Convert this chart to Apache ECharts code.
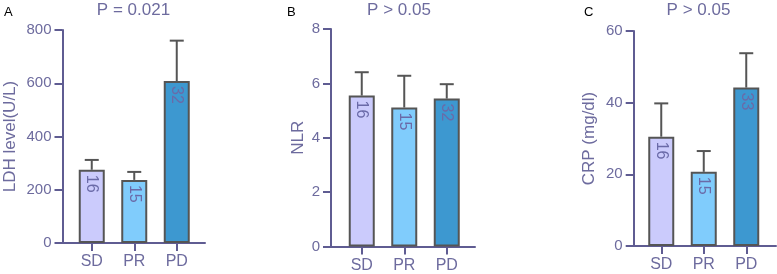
<!DOCTYPE html>
<html>
<head>
<meta charset="utf-8">
<script src="https://cdn.jsdelivr.net/npm/echarts@6/dist/echarts.min.js"></script>
<style>
  html, body { margin: 0; padding: 0; background: #fff; }
  #chart { width: 777px; height: 274px; }
</style>
</head>
<body>
<div id="chart"></div>
<script>
// data
const categories = ['SD', 'PR', 'PD']
const ldhMean = [275, 237, 608]
const ldhErr = [37, 30, 152]
const ldhN = [16, 15, 32]
const nlrMean = [5.55, 5.11, 5.44]
const nlrErr = [0.86, 1.17, 0.53]
const nlrN = [16, 15, 32]
const crpMean = [30.5, 20.7, 44.2]
const crpErr = [9.3, 5.8, 9.6]
const crpN = [16, 15, 33]

const pTexts = ['P = 0.021', 'P > 0.05', 'P > 0.05']
const letters = ['A', 'B', 'C']
const yNames = ['LDH level(U/L)', 'NLR', 'CRP (mg/dl)']
const yMax = [800, 8, 60]
const yStep = [200, 2, 20]

const barColors = ['#cbcbfc', '#80ccfc', '#3d98d0']
const axisColor = '#5f5c92'
const textColor = '#6d6b9e'
const edgeColor = '#555555'
const font = 'Liberation Sans, Arial, sans-serif'

// panel geometry (px)
const panels = [
  { axisX: 62.5, barLeft: 70.5, lineEnd: 205, top: 30, bottom: 243, titleX: 133.5, letterX: 4, nameGap: 44 },
  { axisX: 331, barLeft: 340.5, lineEnd: 475, top: 29, bottom: 246.5, titleX: 399, letterX: 287, nameGap: 24 },
  { axisX: 633.7, barLeft: 640, lineEnd: 776, top: 31, bottom: 246, titleX: 698.5, letterX: 584, nameGap: 35.5 }
]
const means = [ldhMean, nlrMean, crpMean]
const errs = [ldhErr, nlrErr, crpErr]
const counts = [ldhN, nlrN, crpN]

const H = 274
const catW = 127.5

const grid = [], xAxis = [], yAxis = [], series = [], title = []

panels.forEach((p, k) => {
  const gBar = grid.length
  grid.push({ left: p.barLeft, width: catW, top: p.top, bottom: H - p.bottom })
  const gLine = grid.length
  grid.push({ left: p.axisX, width: p.lineEnd - p.axisX, top: p.top, bottom: H - p.bottom })

  const xBar = xAxis.length
  xAxis.push({
    type: 'category', gridIndex: gBar, data: categories,
    axisLine: { show: false },
    axisTick: { show: true, alignWithLabel: true, length: 8, lineStyle: { color: axisColor, width: 2 } },
    axisLabel: { color: textColor, fontSize: 16, fontFamily: font, margin: 11 }
  })
  xAxis.push({
    type: 'value', gridIndex: gLine, min: 0, max: 1,
    axisLine: { show: true, lineStyle: { color: axisColor, width: 2 } },
    axisTick: { show: false }, axisLabel: { show: false }, splitLine: { show: false }
  })

  const yBar = yAxis.length
  yAxis.push({
    type: 'value', gridIndex: gBar, min: 0, max: yMax[k], interval: yStep[k],
    offset: p.barLeft - p.axisX,
    name: yNames[k], nameLocation: 'middle', nameGap: p.nameGap,
    nameTextStyle: { color: textColor, fontSize: 17, fontFamily: font },
    axisLine: { show: true, lineStyle: { color: axisColor, width: 2 } },
    axisTick: { show: true, length: 8, lineStyle: { color: axisColor, width: 2 } },
    axisLabel: { color: textColor, fontSize: 15, fontFamily: font, margin: 11 },
    splitLine: { show: false }
  })
  yAxis.push({ type: 'value', gridIndex: gLine, show: false, min: 0, max: 1 })

  const mean = means[k], err = errs[k], n = counts[k]

  // error bars (mean -> mean + err, with cap)
  series.push({
    type: 'custom', xAxisIndex: xBar, yAxisIndex: yBar, z: 1,
    data: mean.map((m, i) => [i, m, m + err[i]]),
    renderItem: function (params, api) {
      const lo = api.coord([api.value(0), api.value(1)])
      const hi = api.coord([api.value(0), api.value(2)])
      const style = { stroke: edgeColor, lineWidth: 2 }
      return {
        type: 'group',
        children: [
          { type: 'line', shape: { x1: lo[0], y1: lo[1], x2: hi[0], y2: hi[1] }, style },
          { type: 'line', shape: { x1: hi[0] - 7, y1: hi[1], x2: hi[0] + 7, y2: hi[1] }, style }
        ]
      }
    }
  })

  series.push({
    type: 'bar', xAxisIndex: xBar, yAxisIndex: yBar, z: 2, barWidth: 26,
    data: mean.map((m, i) => ({
      value: m,
      itemStyle: { color: barColors[i], borderColor: edgeColor, borderWidth: 2 }
    })),
    label: {
      show: true, position: 'insideTop', rotate: -90, align: 'left', verticalAlign: 'middle',
      distance: 5, color: '#6a6aa8', fontSize: 16, fontFamily: font,
      formatter: (q) => String(n[q.dataIndex])
    }
  })

  title.push({
    text: pTexts[k], left: p.titleX, top: 2, textAlign: 'center', padding: 0,
    textStyle: { color: textColor, fontSize: 17, fontWeight: 'normal', fontFamily: font }
  })
  title.push({
    text: letters[k], left: p.letterX, top: 6, padding: 0,
    textStyle: { color: '#000', fontSize: 13, fontWeight: 'normal', fontFamily: font }
  })
})

const chart = echarts.init(document.getElementById('chart'))
chart.setOption({ animation: false, title, grid, xAxis, yAxis, series })
window.addEventListener('resize', () => chart.resize())
</script>
</body>
</html>
